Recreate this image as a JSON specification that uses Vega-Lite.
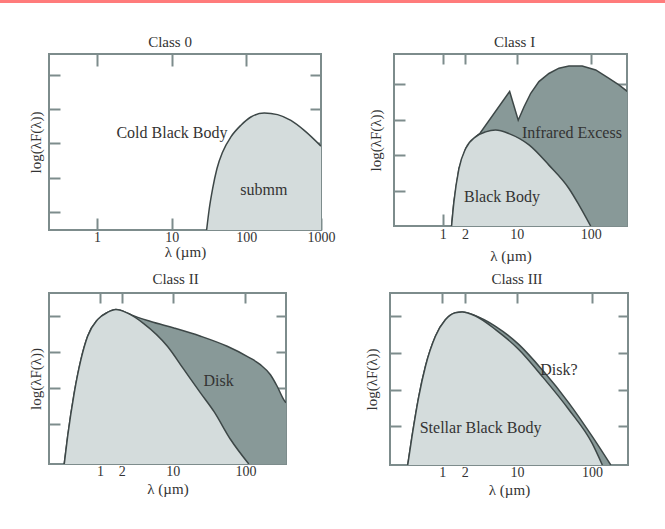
{
  "$schema": "https://vega.github.io/schema/vega-lite/v6.json",
  "background": "white",
  "padding": 0,
  "config": {
    "font": "Liberation Serif",
    "view": {"stroke": "#7d8c8c", "strokeWidth": 2},
    "axis": {
      "domain": false,
      "grid": false,
      "tickColor": "#7d8c8c",
      "tickWidth": 2,
      "labelFont": "Liberation Serif",
      "labelFontSize": 14,
      "labelColor": "#333333",
      "labelFlush": false,
      "titleFont": "Liberation Serif",
      "titleFontSize": 15,
      "titleFontWeight": "normal",
      "titleColor": "#333333"
    },
    "title": {"font": "Liberation Serif", "fontSize": 15, "fontWeight": "normal", "color": "#333333", "offset": 3},
    "text": {"font": "Liberation Serif", "fontSize": 16, "color": "#333333"},
    "area": {"opacity": 1, "fillOpacity": 1}
  },
  "datasets": {
    "band": [{"start": 0, "end": 1}],
    "c0_body": [
      {"lambda": 29.4, "level": 0},
      {"lambda": 31.9, "level": 0.62},
      {"lambda": 35.4, "level": 1.21},
      {"lambda": 40.4, "level": 1.79},
      {"lambda": 48.2, "level": 2.28},
      {"lambda": 62.2, "level": 2.72},
      {"lambda": 84.7, "level": 3.06},
      {"lambda": 115, "level": 3.3},
      {"lambda": 174, "level": 3.42},
      {"lambda": 262, "level": 3.37},
      {"lambda": 395, "level": 3.2},
      {"lambda": 596, "level": 2.91},
      {"lambda": 1000, "level": 2.45}
    ],
    "c0_labels": [
      {"lambda": 10.1, "level": 2.83, "text": "Cold Black Body"},
      {"lambda": 172, "level": 1.17, "text": "submm"}
    ],
    "c1_star": [
      {"lambda": 1.32, "level": 0},
      {"lambda": 1.42, "level": 0.68},
      {"lambda": 1.66, "level": 1.62},
      {"lambda": 2.05, "level": 2.19},
      {"lambda": 2.79, "level": 2.52},
      {"lambda": 3.81, "level": 2.66},
      {"lambda": 5.2, "level": 2.71},
      {"lambda": 7.87, "level": 2.61},
      {"lambda": 14.7, "level": 2.29},
      {"lambda": 27.3, "level": 1.72},
      {"lambda": 50.9, "level": 1.06},
      {"lambda": 69.7, "level": 0.59},
      {"lambda": 100, "level": 0}
    ],
    "c1_excess": [
      {"lambda": 1.32, "level": 0},
      {"lambda": 1.42, "level": 0.68},
      {"lambda": 1.66, "level": 1.62},
      {"lambda": 2.05, "level": 2.19},
      {"lambda": 2.79, "level": 2.52},
      {"lambda": 3.2, "level": 2.62},
      {"lambda": 8.04, "level": 3.8},
      {"lambda": 10.5, "level": 2.99},
      {"lambda": 12.6, "level": 3.37},
      {"lambda": 15.5, "level": 3.75},
      {"lambda": 20, "level": 4.08},
      {"lambda": 27.3, "level": 4.31},
      {"lambda": 37.3, "level": 4.46},
      {"lambda": 50.9, "level": 4.52},
      {"lambda": 76.9, "level": 4.52},
      {"lambda": 117, "level": 4.41},
      {"lambda": 177, "level": 4.17},
      {"lambda": 241, "level": 3.99},
      {"lambda": 297, "level": 3.84},
      {"lambda": 310, "level": 3.8}
    ],
    "c1_labels": [
      {"lambda": 55.9, "level": 2.64, "text": "Infrared Excess"},
      {"lambda": 6.33, "level": 0.82, "text": "Black Body"}
    ],
    "c2_star": [
      {"lambda": 0.324, "level": 0},
      {"lambda": 0.361, "level": 0.77},
      {"lambda": 0.444, "level": 1.97},
      {"lambda": 0.549, "level": 2.9},
      {"lambda": 0.679, "level": 3.55},
      {"lambda": 0.93, "level": 4.01},
      {"lambda": 1.27, "level": 4.21},
      {"lambda": 1.66, "level": 4.29},
      {"lambda": 2.4, "level": 4.19},
      {"lambda": 4.0, "level": 3.9},
      {"lambda": 8.46, "level": 3.27},
      {"lambda": 14.3, "level": 2.62},
      {"lambda": 24.2, "level": 1.97},
      {"lambda": 36.8, "level": 1.46},
      {"lambda": 62.4, "level": 0.68},
      {"lambda": 111, "level": 0}
    ],
    "c2_disk": [
      {"lambda": 0.324, "level": 0},
      {"lambda": 0.361, "level": 0.77},
      {"lambda": 0.444, "level": 1.97},
      {"lambda": 0.549, "level": 2.9},
      {"lambda": 0.679, "level": 3.55},
      {"lambda": 0.93, "level": 4.01},
      {"lambda": 1.27, "level": 4.21},
      {"lambda": 1.66, "level": 4.29},
      {"lambda": 2.4, "level": 4.19},
      {"lambda": 2.66, "level": 4.15},
      {"lambda": 5.0, "level": 3.96},
      {"lambda": 10.4, "level": 3.78},
      {"lambda": 24.2, "level": 3.55},
      {"lambda": 56.1, "level": 3.27},
      {"lambda": 105, "level": 2.99},
      {"lambda": 160, "level": 2.76},
      {"lambda": 220, "level": 2.48},
      {"lambda": 272, "level": 2.16},
      {"lambda": 335, "level": 1.79},
      {"lambda": 360, "level": 1.7}
    ],
    "c2_labels": [
      {"lambda": 42.7, "level": 2.31, "text": "Disk"}
    ],
    "c3_star": [
      {"lambda": 0.345, "level": 0},
      {"lambda": 0.394, "level": 0.78},
      {"lambda": 0.485, "level": 1.87},
      {"lambda": 0.596, "level": 2.7},
      {"lambda": 0.81, "level": 3.52},
      {"lambda": 1.1, "level": 3.97},
      {"lambda": 1.5, "level": 4.16},
      {"lambda": 1.84, "level": 4.18},
      {"lambda": 2.78, "level": 4.07},
      {"lambda": 5.15, "level": 3.7},
      {"lambda": 10.6, "level": 3.15},
      {"lambda": 21.7, "level": 2.42},
      {"lambda": 49.4, "level": 1.51},
      {"lambda": 101, "level": 0.59},
      {"lambda": 138, "level": 0}
    ],
    "c3_disk": [
      {"lambda": 0.345, "level": 0},
      {"lambda": 0.394, "level": 0.78},
      {"lambda": 0.485, "level": 1.87},
      {"lambda": 0.596, "level": 2.7},
      {"lambda": 0.81, "level": 3.52},
      {"lambda": 1.1, "level": 3.97},
      {"lambda": 1.5, "level": 4.16},
      {"lambda": 1.84, "level": 4.18},
      {"lambda": 2.78, "level": 4.08},
      {"lambda": 5.15, "level": 3.79},
      {"lambda": 10.6, "level": 3.29},
      {"lambda": 21.7, "level": 2.6},
      {"lambda": 49.4, "level": 1.69},
      {"lambda": 101, "level": 0.78},
      {"lambda": 179, "level": 0}
    ],
    "c3_labels": [
      {"lambda": 36.3, "level": 2.6, "text": "Disk?"},
      {"lambda": 3.25, "level": 1.01, "text": "Stellar Black Body"}
    ]
  },
  "vconcat": [
    {
      "width": 665,
      "height": 3,
      "view": {"stroke": null},
      "data": {"name": "band"},
      "mark": {"type": "rect", "color": "#ff7b7b"},
      "encoding": {
        "x": {"field": "start", "type": "quantitative", "scale": {"domain": [0, 1], "nice": false}, "axis": null},
        "x2": {"field": "end"},
        "y": {"field": "start", "type": "quantitative", "scale": {"domain": [0, 1], "nice": false}, "axis": null},
        "y2": {"field": "end"}
      }
    },
    {
      "hconcat": [
        {
          "width": 1,
          "height": 1,
          "view": {"stroke": null},
          "data": {"values": []},
          "mark": "point",
          "encoding": {}
        },
        {
          "vconcat": [
            {
              "hconcat": [
                {
                  "width": 272,
                  "height": 176,
                  "title": {"text": "Class 0", "dx": -15},
                  "layer": [
                    {
                      "data": {"name": "c0_body"},
                      "mark": {"type": "area", "fill": "#d4dcdc", "fillOpacity": 1, "interpolate": "monotone", "clip": true, "line": {"color": "#3d4747", "strokeWidth": 1.5}},
                      "encoding": {
                        "x": {"field": "lambda", "type": "quantitative", "scale": {"type": "log", "domain": [0.228, 1000], "nice": false},
                              "axis": {"orient": "bottom", "values": [1, 10, 100, 1000], "format": "d", "tickSize": -12, "labelPadding": 12, "title": "λ (µm)", "titlePadding": 0}},
                        "y": {"field": "level", "type": "quantitative", "scale": {"domain": [0, 5.14], "nice": false, "zero": false},
                              "axis": {"orient": "left", "values": [0.53, 1.53, 2.53, 3.53, 4.53], "labels": false, "tickSize": -11, "title": "log(λF(λ))", "titlePadding": 5}},
                        "y2": {"datum": 0}
                      }
                    },
                    {
                      "data": {"name": "c0_labels"},
                      "mark": {"type": "text"},
                      "encoding": {
                        "x": {"field": "lambda", "type": "quantitative", "axis": {"orient": "top", "values": [1, 10, 100], "labels": false, "tickSize": -12, "title": null}},
                        "y": {"field": "level", "type": "quantitative", "axis": {"orient": "right", "values": [0.53, 1.53, 2.53, 3.53, 4.53], "labels": false, "tickSize": -11, "title": null}},
                        "text": {"field": "text"}
                      }
                    }
                  ],
                  "resolve": {"axis": {"x": "independent", "y": "independent"}}
                },
                {
                  "width": 233,
                  "height": 172,
                  "title": {"text": "Class I", "dx": 4},
                  "layer": [
                    {
                      "data": {"name": "c1_excess"},
                      "mark": {"type": "area", "fill": "#889998", "fillOpacity": 1, "interpolate": "linear", "clip": true, "line": {"color": "#3d4747", "strokeWidth": 1.5}},
                      "encoding": {
                        "x": {"field": "lambda", "type": "quantitative", "scale": {"type": "log", "domain": [0.22, 310], "nice": false},
                              "axis": {"orient": "bottom", "values": [1, 2, 10, 100], "format": "d", "tickSize": -12, "labelPadding": 13, "title": "λ (µm)", "titlePadding": 7}},
                        "y": {"field": "level", "type": "quantitative", "scale": {"domain": [0, 4.86], "nice": false, "zero": false},
                              "axis": {"orient": "left", "values": [1, 2, 3, 4], "labels": false, "tickSize": -11, "title": "log(λF(λ))", "titlePadding": 10}},
                        "y2": {"datum": 0}
                      }
                    },
                    {
                      "data": {"name": "c1_star"},
                      "mark": {"type": "area", "fill": "#d4dcdc", "fillOpacity": 1, "interpolate": "monotone", "clip": true, "line": {"color": "#3d4747", "strokeWidth": 1.5}},
                      "encoding": {
                        "x": {"field": "lambda", "type": "quantitative", "axis": null},
                        "y": {"field": "level", "type": "quantitative", "axis": null},
                        "y2": {"datum": 0}
                      }
                    },
                    {
                      "data": {"name": "c1_labels"},
                      "mark": {"type": "text"},
                      "encoding": {
                        "x": {"field": "lambda", "type": "quantitative", "axis": {"orient": "top", "values": [1, 2, 10, 100], "labels": false, "tickSize": -10, "title": null}},
                        "y": {"field": "level", "type": "quantitative", "axis": {"orient": "right", "values": [1, 2, 3, 4], "labels": false, "tickSize": -10, "title": null}},
                        "text": {"field": "text"}
                      }
                    }
                  ],
                  "resolve": {"axis": {"x": "independent", "y": "independent"}}
                }
              ],
              "spacing": 31
            },
            {
              "hconcat": [
                {
                  "width": 237,
                  "height": 171,
                  "title": {"text": "Class II", "dx": 8, "offset": 5},
                  "layer": [
                    {
                      "data": {"name": "c2_disk"},
                      "mark": {"type": "area", "fill": "#889998", "fillOpacity": 1, "interpolate": "monotone", "clip": true, "line": {"color": "#3d4747", "strokeWidth": 1.5}},
                      "encoding": {
                        "x": {"field": "lambda", "type": "quantitative", "scale": {"type": "log", "domain": [0.2, 360], "nice": false},
                              "axis": {"orient": "bottom", "values": [1, 2, 10, 100], "format": "d", "tickSize": -12, "labelPadding": 12, "title": "λ (µm)", "titlePadding": 3}},
                        "y": {"field": "level", "type": "quantitative", "scale": {"domain": [0, 4.75], "nice": false, "zero": false},
                              "axis": {"orient": "left", "values": [1.12, 2.12, 3.12, 4.12], "labels": false, "tickSize": -11, "title": "log(λF(λ))", "titlePadding": 5}},
                        "y2": {"datum": 0}
                      }
                    },
                    {
                      "data": {"name": "c2_star"},
                      "mark": {"type": "area", "fill": "#d4dcdc", "fillOpacity": 1, "interpolate": "monotone", "clip": true, "line": {"color": "#3d4747", "strokeWidth": 1.5}},
                      "encoding": {
                        "x": {"field": "lambda", "type": "quantitative", "axis": null},
                        "y": {"field": "level", "type": "quantitative", "axis": null},
                        "y2": {"datum": 0}
                      }
                    },
                    {
                      "data": {"name": "c2_labels"},
                      "mark": {"type": "text"},
                      "encoding": {
                        "x": {"field": "lambda", "type": "quantitative", "axis": {"orient": "top", "values": [1, 2, 10, 100], "labels": false, "tickSize": -10, "title": null}},
                        "y": {"field": "level", "type": "quantitative", "axis": {"orient": "right", "values": [1.12, 2.12, 3.12, 4.12], "labels": false, "tickSize": -10, "title": null}},
                        "text": {"field": "text"}
                      }
                    }
                  ],
                  "resolve": {"axis": {"x": "independent", "y": "independent"}}
                },
                {
                  "width": 238,
                  "height": 172,
                  "title": {"text": "Class III", "dx": 8, "offset": 5},
                  "layer": [
                    {
                      "data": {"name": "c3_disk"},
                      "mark": {"type": "area", "fill": "#889998", "fillOpacity": 1, "interpolate": "monotone", "clip": true, "line": {"color": "#3d4747", "strokeWidth": 1.5}},
                      "encoding": {
                        "x": {"field": "lambda", "type": "quantitative", "scale": {"type": "log", "domain": [0.2, 304], "nice": false},
                              "axis": {"orient": "bottom", "values": [1, 2, 10, 100], "format": "d", "tickSize": -12, "labelPadding": 12, "title": "λ (µm)", "titlePadding": 3}},
                        "y": {"field": "level", "type": "quantitative", "scale": {"domain": [0, 4.7], "nice": false, "zero": false},
                              "axis": {"orient": "left", "values": [1.06, 2.06, 3.06, 4.06], "labels": false, "tickSize": -11, "title": "log(λF(λ))", "titlePadding": 10}},
                        "y2": {"datum": 0}
                      }
                    },
                    {
                      "data": {"name": "c3_star"},
                      "mark": {"type": "area", "fill": "#d4dcdc", "fillOpacity": 1, "interpolate": "monotone", "clip": true, "line": {"color": "#3d4747", "strokeWidth": 1.5}},
                      "encoding": {
                        "x": {"field": "lambda", "type": "quantitative", "axis": null},
                        "y": {"field": "level", "type": "quantitative", "axis": null},
                        "y2": {"datum": 0}
                      }
                    },
                    {
                      "data": {"name": "c3_labels"},
                      "mark": {"type": "text"},
                      "encoding": {
                        "x": {"field": "lambda", "type": "quantitative", "axis": {"orient": "top", "values": [1, 2, 10, 100], "labels": false, "tickSize": -10, "title": null}},
                        "y": {"field": "level", "type": "quantitative", "axis": {"orient": "right", "values": [1.06, 2.06, 3.06, 4.06], "labels": false, "tickSize": -10, "title": null}},
                        "text": {"field": "text"}
                      }
                    }
                  ],
                  "resolve": {"axis": {"x": "independent", "y": "independent"}}
                }
              ],
              "spacing": 75
            }
          ],
          "spacing": 7
        }
      ],
      "spacing": 26
    }
  ],
  "spacing": 31
}
